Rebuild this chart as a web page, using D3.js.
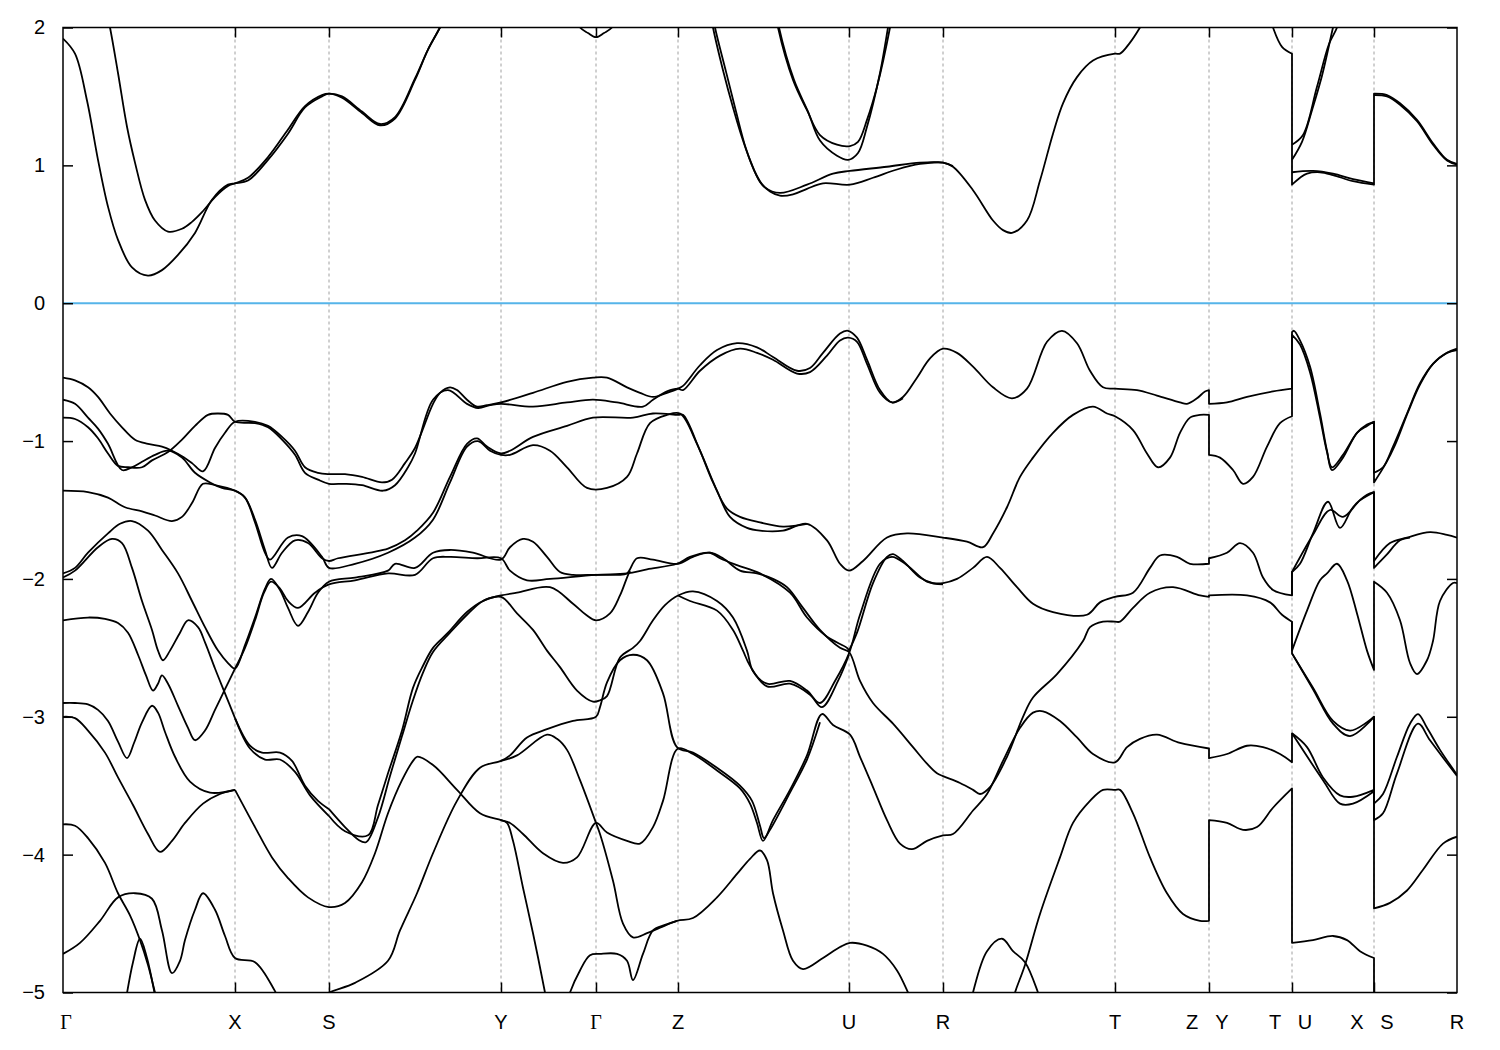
<!DOCTYPE html>
<html><head><meta charset="utf-8">
<script src="https://cdn.jsdelivr.net/npm/d3@7"></script>
<style>body{margin:0;background:#fff}svg{display:block}</style></head>
<body><svg id="chart" width="1500" height="1050"></svg>
<script>
// high-symmetry points (k-path distance) and labels
const kTicks = [0,0.172,0.266,0.438,0.533,0.615,0.786,0.880,1.052,1.146,1.229,1.311,1.394];
const kLabels = ["Γ","X","S","Y","Γ","Z","U","R","T","Z|Y","T|U","X|S","R"];
const energyTicks = [2,1,0,-1,-2,-3,-4,-5];

// ---- conduction bands (k, E in eV) ----
const cb1 = [[0,1.92],[.012,1.81],[.024,1.47],[.035,1.04],[.045,.70],[.055,.46],[.069,.26],[.085,.20],[.099,.24],[.115,.35],[.132,.51],[.149,.75],[.165,.86],[.172,.87],[.185,.89],[.205,1.04],[.225,1.23],[.242,1.42],[.259,1.50],[.266,1.52],[.279,1.49],[.299,1.38],[.317,1.29],[.332,1.34],[.352,1.62],[.365,1.84],[.377,2.0],[.387,2.14]];
const cb2 = [[.041,2.20],[.047,2.0],[.055,1.67],[.064,1.28],[.072,1.02],[.082,.75],[.092,.60],[.105,.52],[.119,.54],[.129,.59],[.139,.66],[.152,.77],[.165,.85],[.172,.87],[.185,.91],[.205,1.06],[.225,1.26],[.242,1.43],[.259,1.51],[.266,1.52],[.279,1.50],[.299,1.39],[.317,1.30],[.332,1.35],[.352,1.63],[.365,1.84],[.377,2.0],[.387,2.15]];
const cb3 = [[.507,2.13],[.517,2.0],[.525,1.96],[.533,1.93],[.541,1.96],[.549,2.0],[.559,2.13]];
const cb4 = [[.647,2.13],[.650,2.0],[.660,1.69],[.670,1.42],[.680,1.18],[.687,1.04],[.697,.88],[.707,.81],[.717,.78],[.730,.79],[.744,.83],[.760,.87],[.787,.86],[.810,.91],[.834,.97],[.857,1.01],[.880,1.02],[.890,.99],[.910,.82],[.930,.60],[.940,.53],[.949,.51],[.964,.60],[.977,.89],[.990,1.23],[1.000,1.45],[1.014,1.64],[1.030,1.76],[1.052,1.81],[1.057,1.81],[1.067,1.89],[1.077,2.0],[1.087,2.13]];
const cb5 = [[.649,2.13],[.652,2.0],[.663,1.68],[.673,1.39],[.683,1.12],[.692,.95],[.702,.84],[.717,.80],[.744,.86],[.770,.94],[.787,.96],[.824,.99],[.857,1.02],[.880,1.02],[.890,.995]];
const cb6 = [[.712,2.13],[.715,2.0],[.730,1.62],[.744,1.40],[.757,1.22],[.774,1.15],[.787,1.14],[.795,1.17],[.804,1.33],[.814,1.57],[.827,2.0],[.830,2.13]];
const cb7 = [[.713,2.13],[.716,2.0],[.731,1.62],[.745,1.39],[.757,1.18],[.774,1.07],[.785,1.04],[.795,1.09],[.804,1.28],[.817,1.67],[.825,2.0],[.828,2.13]];
const cb8 = [[1.205,2.13],[1.210,2.0],[1.219,1.86],[1.229,1.81],[1.229,.86],[1.237,.91],[1.244,.94],[1.257,.95],[1.270,.93],[1.290,.885],[1.311,.86],[1.311,1.52],[1.324,1.51],[1.337,1.45],[1.354,1.33],[1.370,1.16],[1.384,1.04],[1.394,1.01]];
const cb9 = [[1.229,.95],[1.250,.96],[1.270,.94],[1.290,.90],[1.311,.87]];
const cb10 = [[1.229,1.04],[1.239,1.17],[1.249,1.40],[1.259,1.65],[1.270,2.0],[1.274,2.12]];
const cb11 = [[1.229,1.15],[1.240,1.22],[1.254,1.57],[1.266,1.88],[1.274,2.0],[1.278,2.12]];
const cb12 = [[1.311,1.51],[1.324,1.50],[1.337,1.44],[1.354,1.32],[1.370,1.15],[1.384,1.035],[1.394,1.005]];

// ---- valence bands ----
const vb1 = [[0,-.54],[.012,-.56],[.025,-.61],[.035,-.68],[.047,-.80],[.059,-.90],[.072,-.99],[.085,-1.02],[.099,-1.04],[.109,-1.07],[.119,-1.11],[.129,-1.16],[.140,-1.22],[.152,-1.05],[.162,-.94],[.172,-.86],[.192,-.86],[.205,-.89],[.219,-.97],[.232,-1.07],[.242,-1.19],[.255,-1.23],[.266,-1.24],[.282,-1.24],[.299,-1.26],[.319,-1.30],[.329,-1.28],[.342,-1.16],[.352,-1.05],[.370,-.73],[.377,-.65],[.387,-.61],[.394,-.63],[.404,-.70],[.414,-.75],[.424,-.74],[.438,-.72],[.470,-.65],[.504,-.57],[.530,-.54],[.544,-.54],[.564,-.61],[.577,-.65],[.590,-.68],[.604,-.65],[.615,-.62],[.620,-.60],[.637,-.45],[.654,-.34],[.674,-.29],[.694,-.32],[.710,-.39],[.734,-.49],[.747,-.47],[.760,-.36],[.777,-.22],[.785,-.20],[.794,-.25],[.804,-.41],[.817,-.63],[.829,-.72],[.840,-.68],[.854,-.54],[.867,-.40],[.880,-.33],[.894,-.36],[.910,-.46],[.930,-.61],[.949,-.69],[.964,-.62],[.984,-.28],[.999,-.20],[1.014,-.29],[1.027,-.49],[1.040,-.61],[1.052,-.62],[1.074,-.63],[1.094,-.67],[1.117,-.72],[1.124,-.73],[1.134,-.69],[1.142,-.64],[1.146,-.63],[1.146,-.73],[1.164,-.72],[1.184,-.68],[1.210,-.64],[1.229,-.62],[1.229,-.21],[1.231,-.20],[1.237,-.27],[1.247,-.46],[1.257,-.80],[1.264,-1.07],[1.269,-1.21],[1.280,-1.12],[1.294,-.94],[1.304,-.89],[1.311,-.86],[1.311,-1.23],[1.320,-1.19],[1.330,-1.04],[1.344,-.80],[1.357,-.58],[1.370,-.44],[1.384,-.36],[1.394,-.33]];
const vb2 = [[0,-.70],[.012,-.73],[.025,-.83],[.035,-.91],[.045,-1.02],[.059,-1.21],[.069,-1.19],[.079,-1.15],[.092,-1.10],[.105,-1.07],[.119,-1.12],[.132,-1.23],[.147,-1.30],[.159,-1.34],[.172,-1.36],[.182,-1.41],[.192,-1.57],[.202,-1.79],[.209,-1.92],[.219,-1.81],[.232,-1.72],[.245,-1.74],[.259,-1.85],[.266,-1.87],[.275,-1.85],[.325,-1.78],[.342,-1.72],[.354,-1.65],[.370,-1.52],[.387,-1.26],[.404,-1.02],[.414,-.98],[.424,-1.04],[.438,-1.09],[.447,-1.07],[.470,-.97],[.504,-.89],[.530,-.83],[.570,-.83],[.590,-.80],[.615,-.81],[.620,-.81],[.637,-1.07],[.654,-1.36],[.667,-1.55],[.684,-1.63],[.697,-1.65],[.720,-1.65],[.744,-1.60],[.764,-1.72],[.777,-1.89],[.786,-1.94],[.800,-1.87],[.824,-1.70],[.844,-1.67],[.880,-1.70],[.904,-1.73],[.920,-1.77],[.930,-1.67],[.944,-1.48],[.957,-1.26],[.970,-1.12],[.990,-.94],[1.010,-.81],[1.030,-.75],[1.044,-.80],[1.052,-.82],[1.070,-.92],[1.084,-1.09],[1.095,-1.19],[1.107,-1.12],[1.117,-.94],[1.127,-.83],[1.137,-.81],[1.146,-.81],[1.146,-1.10],[1.157,-1.12],[1.170,-1.21],[1.180,-1.31],[1.190,-1.26],[1.204,-1.04],[1.217,-.87],[1.229,-.82],[1.229,-.23],[1.237,-.30],[1.247,-.50],[1.257,-.83],[1.264,-1.08],[1.269,-1.19],[1.280,-1.10],[1.294,-.94],[1.304,-.88],[1.311,-.86],[1.311,-1.30],[1.323,-1.16],[1.332,-1.03],[1.345,-.79],[1.357,-.59],[1.370,-.44],[1.384,-.36],[1.394,-.34]];
const vb3 = [[0,-.83],[.012,-.84],[.025,-.90],[.035,-.98],[.045,-1.09],[.055,-1.18],[.065,-1.19],[.079,-1.19],[.089,-1.14],[.105,-1.08],[.119,-.99],[.132,-.89],[.145,-.81],[.155,-.80],[.165,-.81],[.172,-.86],[.192,-.87],[.205,-.90],[.219,-.99],[.232,-1.10],[.242,-1.23],[.255,-1.28],[.266,-1.31],[.282,-1.31],[.299,-1.32],[.320,-1.36],[.332,-1.32],[.345,-1.19],[.352,-1.09],[.370,-.70],[.385,-.63],[.404,-.73],[.415,-.76],[.427,-.74],[.438,-.73],[.470,-.75],[.504,-.72],[.530,-.70],[.554,-.72],[.580,-.75],[.590,-.70],[.604,-.64],[.615,-.62],[.620,-.63],[.637,-.49],[.657,-.38],[.677,-.33],[.694,-.36],[.710,-.41],[.734,-.51],[.747,-.50],[.764,-.38],[.777,-.27],[.785,-.25],[.794,-.28],[.804,-.44],[.817,-.65],[.829,-.72],[.840,-.69]];
const vb4 = [[0,-1.36],[.025,-1.37],[.045,-1.41],[.062,-1.48],[.079,-1.51],[.092,-1.54],[.109,-1.58],[.119,-1.55],[.129,-1.45],[.140,-1.31],[.152,-1.32],[.172,-1.36],[.182,-1.41],[.192,-1.59],[.202,-1.81],[.207,-1.86],[.225,-1.70],[.239,-1.69],[.259,-1.84],[.266,-1.92],[.292,-1.89],[.325,-1.81],[.352,-1.70],[.370,-1.57],[.387,-1.30],[.404,-1.04],[.415,-1.00],[.427,-1.07],[.438,-1.10],[.447,-1.10],[.470,-1.03],[.487,-1.07],[.504,-1.19],[.524,-1.34],[.544,-1.34],[.564,-1.26],[.574,-1.09],[.587,-.87],[.604,-.81],[.617,-.80],[.634,-1.02],[.650,-1.30],[.664,-1.49],[.677,-1.55],[.697,-1.59],[.720,-1.62],[.744,-1.60]];
const vb5 = [[0,-1.96],[.012,-1.92],[.025,-1.81],[.045,-1.67],[.057,-1.60],[.069,-1.58],[.085,-1.65],[.099,-1.79],[.115,-1.96],[.129,-2.16],[.142,-2.35],[.155,-2.52],[.165,-2.61],[.172,-2.65],[.182,-2.48],[.192,-2.28],[.202,-2.07],[.208,-2.00],[.217,-2.08],[.225,-2.21],[.235,-2.34],[.245,-2.24],[.255,-2.10],[.266,-2.02],[.292,-1.99],[.325,-1.94],[.332,-1.89],[.352,-1.92],[.370,-1.81],[.387,-1.79],[.410,-1.81],[.438,-1.86],[.447,-1.77],[.460,-1.71],[.470,-1.73],[.484,-1.84],[.497,-1.95],[.510,-1.97],[.533,-1.97],[.554,-1.97],[.564,-1.96],[.574,-1.85],[.590,-1.86],[.615,-1.89],[.630,-1.84],[.647,-1.81],[.660,-1.85],[.677,-1.94],[.694,-1.96],[.710,-2.00],[.724,-2.06],[.740,-2.21],[.757,-2.37],[.777,-2.50],[.786,-2.53],[.797,-2.74],[.810,-2.90],[.830,-3.05],[.850,-3.22],[.864,-3.34],[.874,-3.41],[.880,-3.43],[.897,-3.48],[.910,-3.53],[.917,-3.56],[.927,-3.51],[.944,-3.29],[.960,-3.00],[.970,-2.86],[.994,-2.69],[1.020,-2.45],[1.027,-2.35],[1.040,-2.31],[1.052,-2.31],[1.057,-2.31],[1.070,-2.21],[1.087,-2.10],[1.110,-2.06],[1.137,-2.12],[1.146,-2.13],[1.146,-2.12],[1.184,-2.12],[1.207,-2.17],[1.219,-2.26],[1.229,-2.31],[1.229,-2.52],[1.244,-2.23],[1.257,-2.01],[1.264,-1.96],[1.274,-1.89],[1.284,-2.01],[1.294,-2.25],[1.304,-2.52],[1.311,-2.66],[1.311,-2.02],[1.324,-2.10],[1.337,-2.30],[1.347,-2.61],[1.354,-2.69],[1.364,-2.59],[1.370,-2.45],[1.377,-2.16],[1.390,-2.03],[1.394,-2.03]];
const vb6 = [[0,-1.99],[.012,-1.94],[.035,-1.77],[.049,-1.71],[.059,-1.74],[.069,-1.92],[.079,-2.16],[.089,-2.37],[.095,-2.52],[.100,-2.59],[.107,-2.52],[.117,-2.39],[.125,-2.30],[.135,-2.35],[.142,-2.46],[.152,-2.65],[.162,-2.83],[.172,-3.01]];
const vb6b = [[.172,-2.65],[.182,-2.50],[.192,-2.30],[.201,-2.10],[.208,-2.02],[.217,-2.07],[.225,-2.16],[.235,-2.21],[.252,-2.10],[.266,-2.04],[.292,-2.01],[.325,-1.96],[.352,-1.97],[.370,-1.85],[.387,-1.84],[.414,-1.85],[.438,-1.85],[.447,-1.94],[.464,-2.01],[.487,-2.00],[.533,-1.97],[.564,-1.96],[.584,-1.93],[.614,-1.89],[.627,-1.84],[.647,-1.81],[.657,-1.85],[.674,-1.90],[.697,-1.96],[.727,-2.10],[.744,-2.28],[.764,-2.42],[.784,-2.50],[.786,-2.52]];
const vb7 = [[.786,-2.52],[.794,-2.39],[.810,-2.03],[.824,-1.84],[.830,-1.82],[.840,-1.87],[.857,-1.99],[.870,-2.03],[.880,-2.03],[.894,-2.00],[.910,-1.92],[.924,-1.84],[.937,-1.92],[.954,-2.06],[.970,-2.18],[.990,-2.24],[1.024,-2.26],[1.037,-2.17],[1.052,-2.13],[1.070,-2.10],[1.087,-1.92],[1.097,-1.83],[1.114,-1.84],[1.127,-1.89],[1.146,-1.89],[1.146,-1.85],[1.164,-1.81],[1.177,-1.74],[1.190,-1.81],[1.200,-1.99],[1.210,-2.08],[1.229,-2.12],[1.229,-1.95],[1.237,-1.89],[1.250,-1.67],[1.265,-1.44],[1.277,-1.63],[1.290,-1.48],[1.304,-1.39],[1.311,-1.37],[1.311,-1.87],[1.327,-1.74],[1.344,-1.70],[1.367,-1.66],[1.384,-1.68],[1.394,-1.70]];
const vb8 = [[1.229,-2.12],[1.229,-1.95],[1.250,-1.68],[1.267,-1.50],[1.280,-1.55],[1.297,-1.43],[1.311,-1.37],[1.311,-1.92],[1.323,-1.83],[1.337,-1.72],[1.347,-1.70]];
const vb9 = [[.266,-3.67],[.282,-3.80],[.295,-3.89],[.303,-3.91],[.315,-3.73],[.327,-3.43],[.339,-3.14],[.350,-2.88],[.360,-2.68],[.370,-2.53],[.387,-2.39],[.404,-2.26],[.420,-2.16],[.438,-2.12],[.454,-2.10],[.487,-2.06],[.510,-2.18],[.523,-2.26],[.533,-2.30],[.547,-2.25],[.557,-2.12],[.564,-1.99],[.567,-1.94]];
const vb10 = [[.266,-3.72],[.282,-3.83],[.305,-3.86],[.315,-3.64],[.325,-3.41],[.339,-3.10],[.350,-2.79],[.360,-2.63],[.370,-2.50],[.385,-2.39],[.404,-2.24],[.420,-2.16],[.438,-2.13],[.454,-2.25],[.470,-2.37],[.484,-2.52],[.497,-2.64],[.514,-2.81],[.530,-2.89],[.537,-2.88],[.544,-2.85],[.557,-2.57],[.570,-2.50],[.577,-2.45],[.590,-2.30],[.602,-2.19],[.615,-2.12],[.630,-2.09],[.654,-2.16],[.670,-2.28],[.684,-2.52],[.690,-2.67],[.704,-2.76],[.727,-2.74],[.744,-2.81],[.757,-2.90],[.772,-2.74],[.786,-2.54],[.797,-2.26],[.817,-1.89],[.829,-1.84],[.844,-1.90],[.864,-2.02],[.880,-2.04]];
const vb11 = [[.615,-2.12],[.627,-2.16],[.654,-2.23],[.670,-2.37],[.680,-2.52],[.687,-2.63],[.704,-2.78],[.727,-2.76],[.747,-2.84],[.759,-2.93],[.775,-2.74],[.786,-2.55]];
const vb12 = [[.172,-3.53],[.192,-3.80],[.209,-4.02],[.225,-4.17],[.245,-4.31],[.266,-4.38],[.282,-4.35],[.299,-4.20],[.312,-3.99],[.325,-3.70],[.339,-3.46],[.350,-3.32],[.354,-3.29],[.370,-3.35],[.394,-3.53],[.417,-3.70],[.438,-3.75],[.447,-3.77],[.460,-3.85],[.480,-3.99],[.500,-4.06],[.514,-4.02],[.533,-3.77],[.544,-3.84],[.564,-3.90],[.577,-3.92],[.590,-3.80],[.600,-3.61],[.615,-3.23],[.630,-3.27],[.654,-3.39],[.677,-3.52],[.687,-3.63],[.694,-3.77],[.700,-3.90],[.710,-3.75],[.727,-3.53],[.744,-3.28],[.759,-2.98],[.770,-3.06],[.787,-3.13],[.797,-3.29],[.810,-3.51],[.824,-3.75],[.837,-3.92],[.849,-3.96],[.864,-3.90],[.880,-3.86],[.890,-3.85],[.910,-3.68],[.924,-3.56],[.940,-3.32],[.957,-3.08],[.970,-2.97],[.980,-2.96],[.997,-3.03],[1.014,-3.15],[1.030,-3.27],[1.052,-3.33],[1.064,-3.22],[1.077,-3.16],[1.094,-3.13],[1.117,-3.19],[1.146,-3.23],[1.146,-3.30],[1.164,-3.27],[1.184,-3.21],[1.200,-3.22],[1.217,-3.27],[1.229,-3.33],[1.229,-3.12],[1.244,-3.22],[1.260,-3.44],[1.277,-3.57],[1.290,-3.58],[1.311,-3.53],[1.311,-4.39],[1.327,-4.35],[1.344,-4.26],[1.360,-4.11],[1.380,-3.92],[1.394,-3.87]];
const vb13 = [[1.229,-3.12],[1.260,-3.46],[1.277,-3.63],[1.290,-3.63],[1.311,-3.54]];
const vb14 = [[1.229,-2.31],[1.229,-2.54],[1.250,-2.79],[1.270,-3.03],[1.287,-3.10],[1.304,-3.04],[1.311,-3.00],[1.311,-3.63],[1.320,-3.56],[1.334,-3.29],[1.347,-3.05],[1.355,-2.98],[1.364,-3.08],[1.377,-3.24],[1.394,-3.42]];
const vb15 = [[1.229,-2.54],[1.250,-2.80],[1.270,-3.05],[1.287,-3.14],[1.311,-3.00],[1.311,-3.75],[1.320,-3.70],[1.334,-3.41],[1.355,-3.05],[1.367,-3.17],[1.394,-3.43]];
const vb16 = [[.947,-5.13],[.952,-5.0],[.962,-4.80],[.977,-4.43],[.997,-4.02],[1.010,-3.77],[1.027,-3.61],[1.040,-3.53],[1.052,-3.53],[1.057,-3.53],[1.070,-3.70],[1.087,-4.02],[1.104,-4.28],[1.120,-4.43],[1.137,-4.48],[1.146,-4.48],[1.146,-3.75],[1.164,-3.77],[1.180,-3.82],[1.194,-3.80],[1.210,-3.66],[1.229,-3.52],[1.229,-4.64],[1.250,-4.62],[1.270,-4.59],[1.284,-4.62],[1.297,-4.70],[1.311,-4.75],[1.311,-5.05]];
const vb17 = [[.907,-5.10],[.910,-5.0],[.924,-4.70],[.939,-4.61],[.950,-4.70],[.962,-4.78],[.975,-5.0],[.979,-5.09]];
const vb18 = [[.438,-3.32],[.454,-3.28],[.484,-3.13],[.494,-3.16],[.504,-3.24],[.517,-3.46],[.533,-3.77],[.537,-3.85],[.550,-4.19],[.560,-4.50],[.570,-4.60],[.584,-4.57],[.597,-4.53],[.614,-4.48],[.630,-4.46],[.654,-4.31],[.674,-4.14],[.687,-4.03],[.697,-3.97],[.704,-4.04],[.710,-4.28],[.720,-4.55],[.730,-4.77],[.740,-4.83],[.760,-4.75],[.777,-4.67],[.787,-4.64],[.804,-4.66],[.820,-4.72],[.834,-4.84],[.845,-5.0],[.852,-5.12]];
const vb19 = [[.503,-5.10],[.507,-5.0],[.517,-4.84],[.527,-4.73],[.537,-4.72],[.554,-4.72],[.564,-4.77],[.570,-4.91],[.580,-4.72],[.590,-4.55],[.602,-4.51],[.614,-4.48]];
const vb20 = [[.252,-5.06],[.266,-5.0],[.292,-4.93],[.325,-4.77],[.337,-4.55],[.354,-4.28],[.370,-3.99],[.394,-3.61],[.417,-3.37],[.438,-3.32],[.447,-3.28],[.464,-3.15],[.484,-3.09],[.510,-3.03],[.533,-3.00],[.537,-2.93],[.544,-2.75],[.557,-2.59],[.570,-2.55],[.584,-2.59],[.600,-2.83],[.614,-3.22],[.630,-3.26],[.654,-3.37],[.677,-3.50],[.689,-3.61],[.697,-3.79],[.701,-3.88],[.707,-3.82],[.727,-3.55],[.744,-3.31],[.757,-3.04]];
const vb21 = [[.438,-3.75],[.444,-3.77],[.450,-3.90],[.460,-4.24],[.470,-4.57],[.482,-5.0],[.485,-5.12]];
const vb22 = [[.172,-3.01],[.187,-3.21],[.199,-3.26],[.217,-3.26],[.229,-3.32],[.242,-3.50],[.255,-3.61],[.266,-3.67]];
const vb23 = [[.172,-3.01],[.187,-3.23],[.202,-3.31],[.217,-3.31],[.232,-3.40],[.247,-3.57],[.266,-3.72]];
// Γ–X lower manifold
const vb24 = [[0,-2.30],[.025,-2.28],[.042,-2.29],[.055,-2.32],[.065,-2.39],[.075,-2.55],[.083,-2.70],[.090,-2.81],[.095,-2.76],[.099,-2.70],[.105,-2.76],[.115,-2.92],[.125,-3.08],[.132,-3.17],[.142,-3.10],[.152,-2.95],[.162,-2.80],[.172,-2.65]];
const vb25 = [[0,-2.90],[.012,-2.90],[.025,-2.91],[.035,-2.95],[.045,-3.03],[.055,-3.18],[.064,-3.30],[.071,-3.19],[.079,-3.04],[.089,-2.92],[.095,-2.97],[.102,-3.11],[.112,-3.29],[.127,-3.47],[.147,-3.55],[.172,-3.53]];
const vb26 = [[0,-3.00],[.012,-3.01],[.025,-3.10],[.042,-3.26],[.055,-3.44],[.070,-3.64],[.085,-3.85],[.097,-3.98],[.109,-3.90],[.122,-3.77],[.140,-3.63],[.157,-3.56],[.172,-3.53]];
const vb27 = [[0,-3.78],[.012,-3.79],[.025,-3.88],[.042,-4.06],[.055,-4.28],[.067,-4.44],[.077,-4.62],[.085,-4.80],[.092,-5.0],[.095,-5.09]];
const vb28 = [[0,-4.72],[.017,-4.64],[.037,-4.48],[.055,-4.31],[.072,-4.28],[.089,-4.32],[.099,-4.55],[.109,-4.86],[.117,-4.77],[.122,-4.62],[.132,-4.40],[.140,-4.28],[.152,-4.40],[.162,-4.59],[.172,-4.75],[.192,-4.78],[.212,-4.99],[.219,-5.09]];
const vb29 = [[.062,-5.09],[.070,-4.78],[.077,-4.61],[.084,-4.75],[.092,-5.02],[.094,-5.09]];

const bands = [cb1,cb2,cb3,cb4,cb5,cb6,cb7,cb8,cb9,cb10,cb11,cb12,
  vb1,vb2,vb3,vb4,vb5,vb6,vb6b,vb7,vb8,vb9,vb10,vb11,vb12,vb13,vb14,vb15,vb16,vb17,vb18,vb19,vb20,vb21,vb22,vb23,
  vb24,vb25,vb26,vb27,vb28,vb29];

const L=63, R=1457, T=27.5, B=992.5;
const svg = d3.select("#chart");
const x = d3.scaleLinear().domain([kTicks[0], kTicks[kTicks.length-1]]).range([L,R]);
const y = d3.scaleLinear().domain([-5,2]).range([B,T]);

svg.append("defs").append("clipPath").attr("id","clip").append("rect")
  .attr("x",L).attr("y",T).attr("width",R-L).attr("height",B-T);

// dashed vertical lines at high-symmetry points
svg.append("g").selectAll("line").data(kTicks.slice(1,-1)).join("line")
  .attr("x1",d=>x(d)).attr("x2",d=>x(d)).attr("y1",T).attr("y2",B)
  .attr("stroke","#a0a0a0").attr("stroke-width",1).attr("stroke-dasharray","3,3");

// Fermi level
svg.append("line").attr("x1",L).attr("x2",R).attr("y1",y(0)).attr("y2",y(0))
  .attr("stroke","#56b4e9").attr("stroke-width",2);

// bands
const gen = d3.line().x(d=>x(d[0])).y(d=>y(d[1])).curve(d3.curveCatmullRom.alpha(0.5));
function bandPath(pts){
  const runs=[]; let cur=[pts[0]];
  for(let i=1;i<pts.length;i++){
    if(Math.abs(pts[i][0]-pts[i-1][0])<1e-9){ runs.push(cur); cur=[pts[i]]; }
    else cur.push(pts[i]);
  }
  runs.push(cur);
  return runs.map((r,i)=>{ const p = r.length>1 ? gen(r) : `M${x(r[0][0])},${y(r[0][1])}`; return i>0 ? "L"+p.slice(1) : p; }).join("");
}
svg.append("g").attr("clip-path","url(#clip)").selectAll("path").data(bands).join("path")
  .attr("d",bandPath).attr("fill","none").attr("stroke","#000").attr("stroke-width",1.8)
  .attr("stroke-linejoin","round");

// axes (inward ticks on all sides)
const fontFam = "'Liberation Sans', Arial, sans-serif";
function styleAxis(g){ g.select(".domain").remove(); g.selectAll("line").attr("stroke","#000").attr("stroke-width",1.5); }
const yAxis = svg.append("g").attr("transform",`translate(${L},0)`)
  .call(d3.axisLeft(y).tickValues(energyTicks).tickSize(-10).tickPadding(18).tickFormat(d3.format("d")));
styleAxis(yAxis);
yAxis.selectAll("text").attr("font-family",fontFam).attr("font-size",20).attr("fill","#000");
styleAxis(svg.append("g").attr("transform",`translate(${R},0)`)
  .call(d3.axisRight(y).tickValues(energyTicks).tickSize(-10).tickFormat("")));
styleAxis(svg.append("g").attr("transform",`translate(0,${T})`)
  .call(d3.axisTop(x).tickValues(kTicks.slice(1,-1)).tickSize(-10).tickFormat("")));
styleAxis(svg.append("g").attr("transform",`translate(0,${B})`)
  .call(d3.axisBottom(x).tickValues(kTicks.slice(1,-1)).tickSize(-10).tickFormat("")));

// k-point labels
const labG = svg.append("g");
kTicks.forEach((k,i)=>{
  const parts = kLabels[i].split("|");
  const offs = parts.length>1 ? [-17,13] : [0];
  parts.forEach((t,j)=>{
    labG.append("text").attr("x",x(k)+offs[j]+(i===0?3:0)).attr("y",B+36)
      .attr("text-anchor","middle").attr("font-size",20)
      .attr("font-family", t==="Γ" ? "'Liberation Serif', serif" : fontFam)
      .text(t);
  });
});

// frame
svg.append("rect").attr("x",L).attr("y",T).attr("width",R-L).attr("height",B-T)
  .attr("fill","none").attr("stroke","#000").attr("stroke-width",1.5);
</script></body></html>
